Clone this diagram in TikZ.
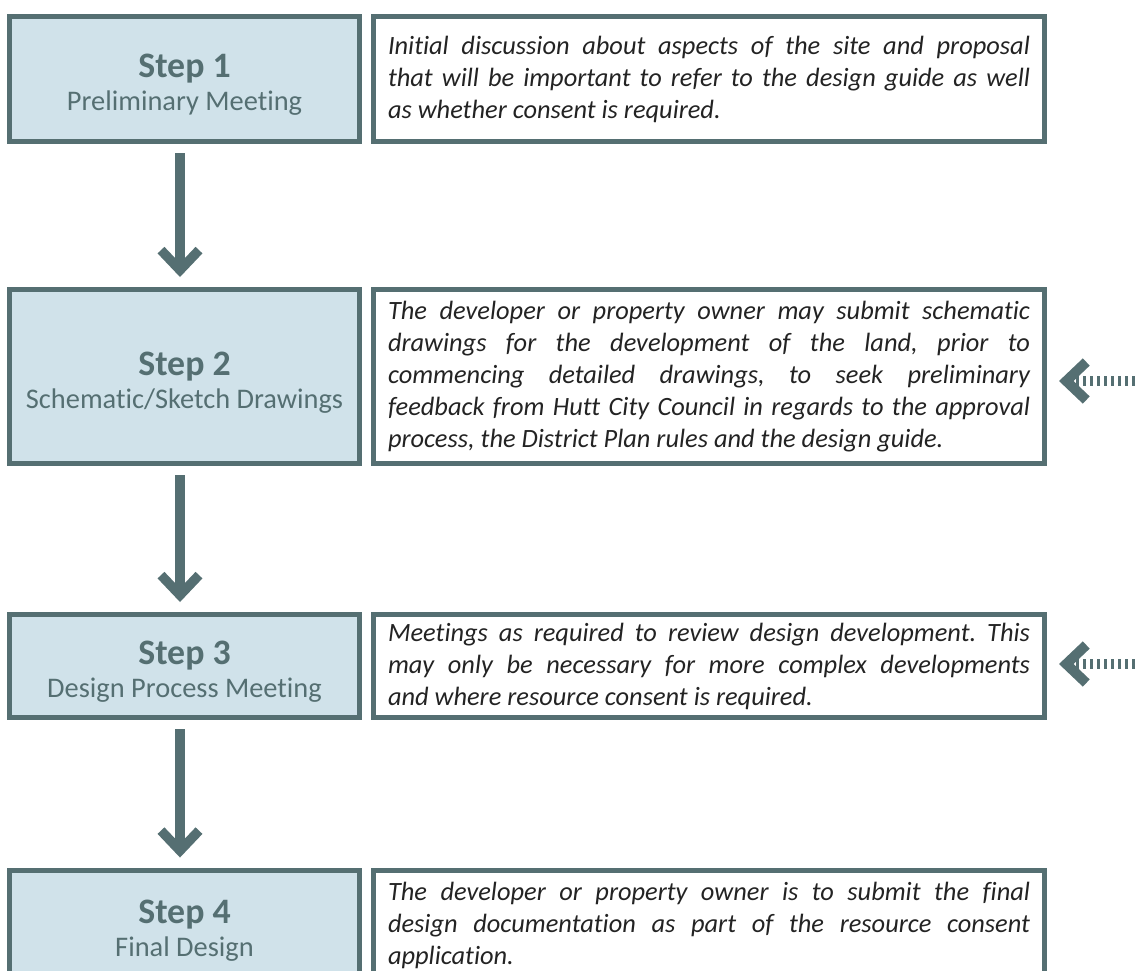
\documentclass[tikz,border=0pt]{standalone}
\usepackage{fontspec}
\setmainfont{Carlito}[Ligatures=NoCommon]
\usetikzlibrary{arrows.meta}
\definecolor{slate}{RGB}{85,111,114}
\definecolor{paleblue}{RGB}{208,226,234}
\definecolor{ink}{RGB}{35,35,35}
\newcommand{\stepname}[2]{{\fontsize{17.9}{16.5}\selectfont\bfseries\rule{0pt}{17.5pt}#1}\\#2}
\frenchspacing

\begin{document}
\begin{tikzpicture}[x=0.5pt, y=-0.5pt,
  stepbox/.style={draw=slate, fill=paleblue, line width=2.5pt, minimum width=175pt,
    align=center, text=slate, font=\fontsize{14.2}{16.5}\selectfont},
  notebox/.style={draw=slate, line width=2.5pt, text width=321pt, inner xsep=7.25pt,
    align=justify, text=ink, font=\fontsize{13.2}{16}\selectfont\itshape},
  down/.style={slate, line width=4.75pt, -{Straight Barb[length=10pt, width=19pt]},
    shorten <=4.5pt, shorten >=5pt},
  feed/.style={slate, line width=5pt, dash pattern=on 1.75pt off 1.75pt,
    -{Straight Barb[length=10pt, width=19pt]}, shorten >=6pt}]
  \clip (0,0) rectangle (1139,970);

  % steps
  \node[stepbox, minimum height=62.5pt] (s1) at (184.5,79) {\stepname{Step 1}{Preliminary Meeting}};
  \node[stepbox, minimum height=87pt] (s2) at (184.5,376.5) {\stepname{Step 2}{Schematic/Sketch Drawings}};
  \node[stepbox, minimum height=51.5pt] (s3) at (184.5,666) {\stepname{Step 3}{Design Process Meeting}};
  \node[stepbox, minimum height=55pt] (s4) at (184.5,925) {\stepname{Step 4}{Final Design}};

  % notes
  \node[notebox, minimum height=62.5pt] (t1) at (709,79) {Initial discussion about aspects of the site and proposal\linebreak
    that will be important to refer to the design guide as well\linebreak
    as whether consent is required.};
  \node[notebox, minimum height=87pt] (t2) at (709,376.5) {The developer or property owner may submit schematic\linebreak
    drawings for the development of the land, prior to\linebreak
    commencing detailed drawings, to seek preliminary\linebreak
    feedback from Hutt City Council in regards to the approval\linebreak
    process, the District Plan rules and the design guide.};
  \node[notebox, minimum height=51.5pt] (t3) at (709,666) {Meetings as required to review design development. This\linebreak
    may only be necessary for more complex developments\linebreak
    and where resource consent is required.};
  \node[notebox, minimum height=55pt] (t4) at (709,925) {The developer or property owner is to submit the final\linebreak
    design documentation as part of the resource consent\linebreak
    application.};

  \draw[down] ([xshift=-2.25pt]s1.south) -- ([xshift=-2.25pt]s2.north);
  \draw[down] ([xshift=-2.25pt]s2.south) -- ([xshift=-2.25pt]s3.north);
  \draw[down] ([xshift=-2.25pt]s3.south) -- ([xshift=-2.25pt]s4.north);

  % incoming from the right
  \coordinate (in2) at (1170,381);
  \coordinate (in3) at (1170,664);
  \draw[feed] (in2) -- (in2 -| t2.east);
  \draw[feed] (in3) -- (in3 -| t3.east);
\end{tikzpicture}
\end{document}
